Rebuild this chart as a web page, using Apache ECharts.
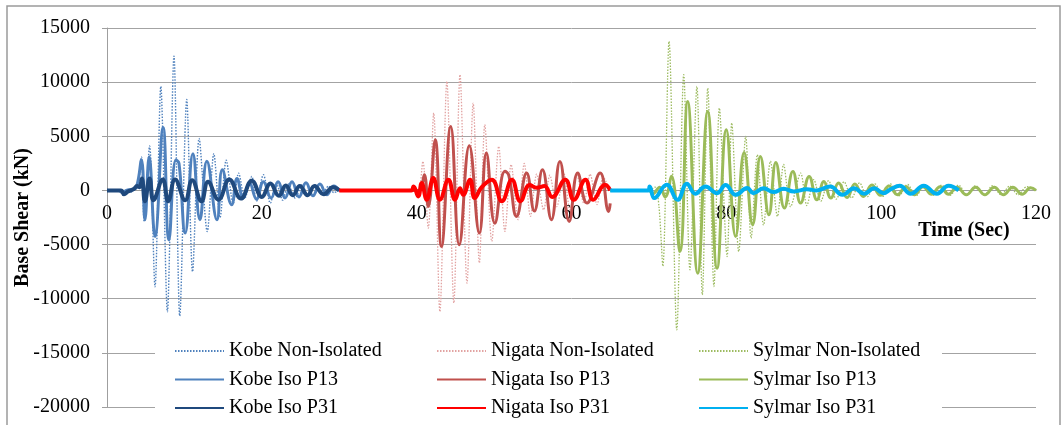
<!DOCTYPE html>
<html>
<head>
<meta charset="utf-8">
<script src="https://cdn.jsdelivr.net/npm/echarts@6/dist/echarts.min.js"></script>
<style>
  html, body { margin: 0; padding: 0; background: #fff; }
  #chart { width: 1062px; height: 425px; }
</style>
</head>
<body>
<div id="chart"></div>
<script>
// ---------- data (time in s, base shear in kN) ----------
const xTicks = [0, 20, 40, 60, 80, 100, 120];
const yTicks = [-20000, -15000, -10000, -5000, 0, 5000, 10000, 15000];

const kobeNonIsoT = [0, 2.0, 3.0, 3.6, 4.0, 4.45, 4.8, 5.5, 6.2, 6.95, 7.8, 8.65, 9.4, 10.3, 11.05, 11.9, 12.95, 13.8, 14.6, 15.4, 16.3, 17.0, 17.8, 18.7, 19.3, 20.2, 21.1, 21.85, 22.7, 23.4, 24.3, 25.2, 26.0, 26.9, 27.8, 28.6, 29.3, 30.0];
const kobeNonIsoV = [0, 0, -150, 100, 300, 3100, -2900, 4100, -8900, 9600, -11200, 12400, -11600, 8400, -7500, 4800, -3800, 3400, -2500, 2800, -1200, 1600, -700, 1300, -1000, 1450, -1170, 700, -900, 600, -700, 500, -500, 500, -400, 400, -200, 0];

const kobeP13T = [0, 1.5, 2.0, 2.5, 3.2, 3.8, 4.45, 4.9, 5.45, 6.2, 7.25, 8.0, 8.9, 9.3, 10.1, 11.1, 12.0, 12.9, 14.2, 14.9, 16.1, 16.8, 17.6, 18.4, 19.3, 20.2, 21.2, 22.1, 23.0, 23.9, 24.8, 25.7, 26.6, 27.5, 28.4, 29.3, 30.0];
const kobeP13V = [0, 0, -200, 0, 100, 300, 2830, -2700, 3100, -4250, 5800, -4560, 2800, 2500, -3940, 3380, -2700, 2700, -2700, 1900, -1320, 1100, -700, 700, -800, 800, -700, 800, -700, 800, -600, 700, -500, 600, -400, 400, 0];

const kobeP31T = [0, 1.8, 2.2, 2.7, 3.4, 3.9, 4.2, 4.5, 4.9, 5.5, 6.0, 7.2, 7.9, 8.8, 10.1, 11.0, 12.2, 13.05, 14.4, 15.8, 17.3, 18.7, 20.0, 21.1, 22.2, 23.1, 24.0, 24.9, 25.9, 26.8, 28.0, 29.2, 30.0];
const kobeP31V = [0, 0, -350, -100, 100, 400, 300, 1100, -1000, 1100, -900, 1000, -1000, 1000, -900, 950, -1000, 800, -850, 1000, -750, 900, -600, 650, -500, 450, -450, 400, -450, 400, -350, 300, 0];

const nigataNonIsoT = [30, 38.5, 39.5, 40.2, 40.8, 41.5, 42.2, 43.0, 43.9, 44.8, 45.6, 46.5, 47.3, 48.1, 48.8, 49.7, 50.6, 51.4, 52.2, 53.1, 53.9, 54.7, 55.5, 56.4, 57.2, 58.1, 59.0, 59.8, 60.7, 61.6, 62.4, 63.3, 64.1, 65.0];
const nigataNonIsoV = [0, 0, 200, -400, 2680, -3480, 7150, -11200, 10070, -10400, 10700, -8560, 8070, -6700, 6070, -4700, 4070, -3790, 2400, -2700, 2500, -2400, 1500, -1800, 1400, -1500, 1600, -1800, 1400, -1200, 1500, -1300, 1200, 0];

const nigataP13T = [30, 40.2, 40.6, 41.0, 41.5, 42.4, 43.2, 44.4, 45.5, 46.8, 48.1, 49.0, 50.1, 51.4, 51.9, 52.9, 54.2, 55.2, 56.25, 57.4, 58.5, 59.7, 60.8, 62.0, 63.7, 64.8, 65.0];
const nigataP13V = [0, 0, 300, 1450, -1480, 4680, -5170, 5900, -5020, 4130, -3940, 3450, -3020, 1760, 1400, -2400, 1600, -1900, 1900, -2700, 2680, -2860, 1600, -1170, 1600, -1940, -1200];

const nigataP31T = [30, 39.3, 39.6, 40.2, 40.65, 41.3, 42.15, 43.0, 44.1, 44.96, 45.6, 46.0, 46.9, 47.5, 48.4, 49.7, 51.0, 52.3, 53.4, 54.6, 55.5, 56.5, 57.5, 59.2, 60.3, 61.8, 62.8, 64.35, 65.0];
const nigataP31V = [0, 0, 370, -550, 680, -860, 1140, -860, 990, -860, 200, -400, 990, -700, 300, 990, -1000, 990, -1000, 500, 250, 400, -600, 990, -860, 990, -860, 520, 0];

const sylmarNonIsoT = [65, 70.0, 70.8, 71.3, 71.8, 72.6, 73.6, 74.5, 75.3, 76.2, 76.9, 77.6, 78.4, 79.1, 80.1, 80.7, 81.6, 82.5, 83.2, 84.0, 84.8, 85.7, 86.6, 87.4, 88.3, 89.6, 90.4, 91.3, 92.2, 93.2, 94.2, 95.2, 96.2, 97.2, 98.2, 99.2, 100.2, 101.2, 102.3, 103.4, 104.5, 105.6, 106.7, 107.8, 108.9, 110.0, 111.1, 112.2, 113.3, 114.4, 115.5, 116.6, 117.7, 118.8, 120.0];
const sylmarNonIsoV = [0, 0, 300, -1500, -7000, 13770, -12870, 10690, -7330, 9600, -9640, 9450, -8870, 7600, -6100, 6220, -5640, 4990, -4400, 3300, -3200, 2700, -2400, 2400, -1500, 1600, -1400, 1000, -1000, 900, -800, 800, -700, 700, -600, 600, -550, 600, -500, 550, -500, 500, -450, 500, -450, 500, -450, 450, -450, 450, -400, 400, -400, 350, 0];

const sylmarP13T = [65, 70.0, 70.5, 71.4, 72.1, 72.9, 74.0, 75.0, 76.3, 77.6, 78.8, 80.0, 81.2, 82.3, 83.4, 84.4, 85.5, 86.4, 87.5, 88.6, 89.6, 90.7, 91.7, 92.6, 93.5, 94.5, 95.6, 96.6, 97.7, 98.8, 99.9, 101.0, 102.1, 103.2, 104.3, 105.4, 106.5, 107.6, 108.7, 109.8, 111.0, 112.2, 113.4, 114.6, 115.8, 117.0, 118.2, 119.3, 120.0];
const sylmarP13V = [0, 0, -300, 300, -600, 1300, -5640, 8220, -7640, 7300, -7180, 5600, -4250, 3510, -3170, 3140, -2250, 2590, -1630, 1750, -1170, 1290, -860, 830, -710, 680, -650, 600, -550, 500, -450, 400, -400, 350, -400, 350, -350, 350, -350, 300, -400, 300, -400, 300, -400, 300, -350, 250, 0];

const sylmarP31T = [65, 69.9, 70.1, 70.7, 72.3, 73.7, 74.9, 76.0, 77.3, 78.8, 79.9, 81.2, 82.7, 83.5, 84.8, 86.1, 87.4, 88.7, 90.4, 91.7, 93.4, 95.0, 96.5, 97.8, 99.1, 100.3, 101.2, 102.4, 103.8, 105.5, 107.2, 108.7, 110.0];
const sylmarP31V = [0, 0, 370, -710, 520, -860, 620, -310, 370, -250, 490, -400, 220, -250, 200, -150, 150, -100, 100, 0, 370, -400, 200, -300, 200, -250, 100, 430, -310, 430, -310, 430, 0];

const kobeNames = ['Kobe Non-Isolated', 'Kobe Iso P13', 'Kobe Iso P31'];
const nigataNames = ['Nigata Non-Isolated', 'Nigata Iso P13', 'Nigata Iso P31'];
const sylmarNames = ['Sylmar Non-Isolated', 'Sylmar Iso P13', 'Sylmar Iso P31'];

// ---------- build ----------
const zip = (t, v) => t.map((x, i) => [x, v[i]]);
const FONT = '"Liberation Serif", "Times New Roman", serif';

const GRID = { left: 107, right: 26, top: 28, bottom: 18 };
const plotH = 425 - GRID.top - GRID.bottom;
const yMin = yTicks[0], yMax = yTicks[yTicks.length - 1];
// shift the x axis from the grid bottom up to the y = 0 line
const xAxisOffset = -plotH * (0 - yMin) / (yMax - yMin);

function mk(name, t, v, color, width, dotted, z) {
  return {
    name: name, type: 'line', data: zip(t, v),
    symbol: 'none', showSymbol: false, smooth: dotted ? 0.3 : 0.45,
    z: z,
    lineStyle: { color: color, width: width, type: dotted ? [1.5, 1.5] : 'solid' },
    itemStyle: { color: color },
    emphasis: { disabled: true }
  };
}

const series = [
  mk(kobeNames[0], kobeNonIsoT, kobeNonIsoV, '#4F81BD', 1.4, true, 2),
  mk(nigataNames[0], nigataNonIsoT, nigataNonIsoV, '#E2A3A2', 1.3, true, 2),
  mk(sylmarNames[0], sylmarNonIsoT, sylmarNonIsoV, '#9DBB61', 1.3, true, 2),
  mk(kobeNames[1], kobeP13T, kobeP13V, '#4F81BD', 3, false, 3),
  mk(nigataNames[1], nigataP13T, nigataP13V, '#C0504D', 3, false, 3),
  mk(sylmarNames[1], sylmarP13T, sylmarP13V, '#9BBB59', 3, false, 3),
  mk(kobeNames[2], kobeP31T, kobeP31V, '#1F497D', 4, false, 4),
  mk(nigataNames[2], nigataP31T, nigataP31V, '#FF0000', 4, false, 4),
  mk(sylmarNames[2], sylmarP31T, sylmarP31V, '#00B0F0', 4, false, 4)
];

function legend(names, left) {
  return {
    data: names, orient: 'vertical', left: left, top: 341, padding: 0,
    itemWidth: 49, itemHeight: 14, itemGap: 8.5,
    selectedMode: false,
    itemStyle: { opacity: 0, color: 'rgba(0,0,0,0)', borderWidth: 0 },
    textStyle: { fontFamily: FONT, fontSize: 20, color: '#000', lineHeight: 20, padding: [0, 0, 0, 0] }
  };
}

const chart = echarts.init(document.getElementById('chart'), null, { renderer: 'canvas' });
chart.setOption({
  animation: false,
  backgroundColor: '#fff',
  grid: { left: GRID.left, right: GRID.right, top: GRID.top, bottom: GRID.bottom, containLabel: false, outerBoundsMode: 'none' },
  xAxis: {
    type: 'value', min: xTicks[0], max: xTicks[xTicks.length - 1], interval: 20,
    position: 'bottom', offset: xAxisOffset,
    axisLine: { show: true, onZero: false, lineStyle: { color: '#9f9f9f', width: 1 } },
    axisTick: { show: false },
    splitLine: { show: false },
    axisLabel: { fontFamily: FONT, fontSize: 20, color: '#000', margin: 13,
      showMinLabel: true, showMaxLabel: true, formatter: v => String(v) }
  },
  yAxis: {
    type: 'value', min: yMin, max: yMax, interval: 5000,
    name: 'Base Shear (kN)', nameLocation: 'middle', nameGap: 74, nameRotate: 90,
    nameMoveOverlap: false,
    nameTextStyle: { fontFamily: FONT, fontSize: 20, fontWeight: 'bold', color: '#000' },
    axisLine: { show: true, onZero: false, lineStyle: { color: '#9f9f9f', width: 1 } },
    axisTick: { show: true, length: 5, lineStyle: { color: '#9f9f9f' } },
    splitLine: { show: true, lineStyle: { color: '#a3a3a3', width: 1 } },
    axisLabel: { fontFamily: FONT, fontSize: 20, color: '#000', margin: 17, formatter: v => String(v) }
  },
  legend: [legend(kobeNames, 174), legend(nigataNames, 436), legend(sylmarNames, 698)],
  graphic: [
    { type: 'rect', z: 1, silent: true,
      shape: { x: 155, y: 337, width: 787, height: 95 },
      style: { fill: '#ffffff' } },
    { type: 'rect', z: 10, silent: true,
      shape: { x: 7, y: 6, width: 1053, height: 440 },
      style: { fill: 'none', stroke: '#9a9a9a', lineWidth: 1.5 } },
    { type: 'text', z: 10, silent: true, x: 964, y: 231,
      style: { text: 'Time (Sec)', fill: '#000', font: 'bold 20px "Liberation Serif"',
        align: 'center', verticalAlign: 'middle' } }
  ],
  series: series
});
</script>
</body>
</html>
